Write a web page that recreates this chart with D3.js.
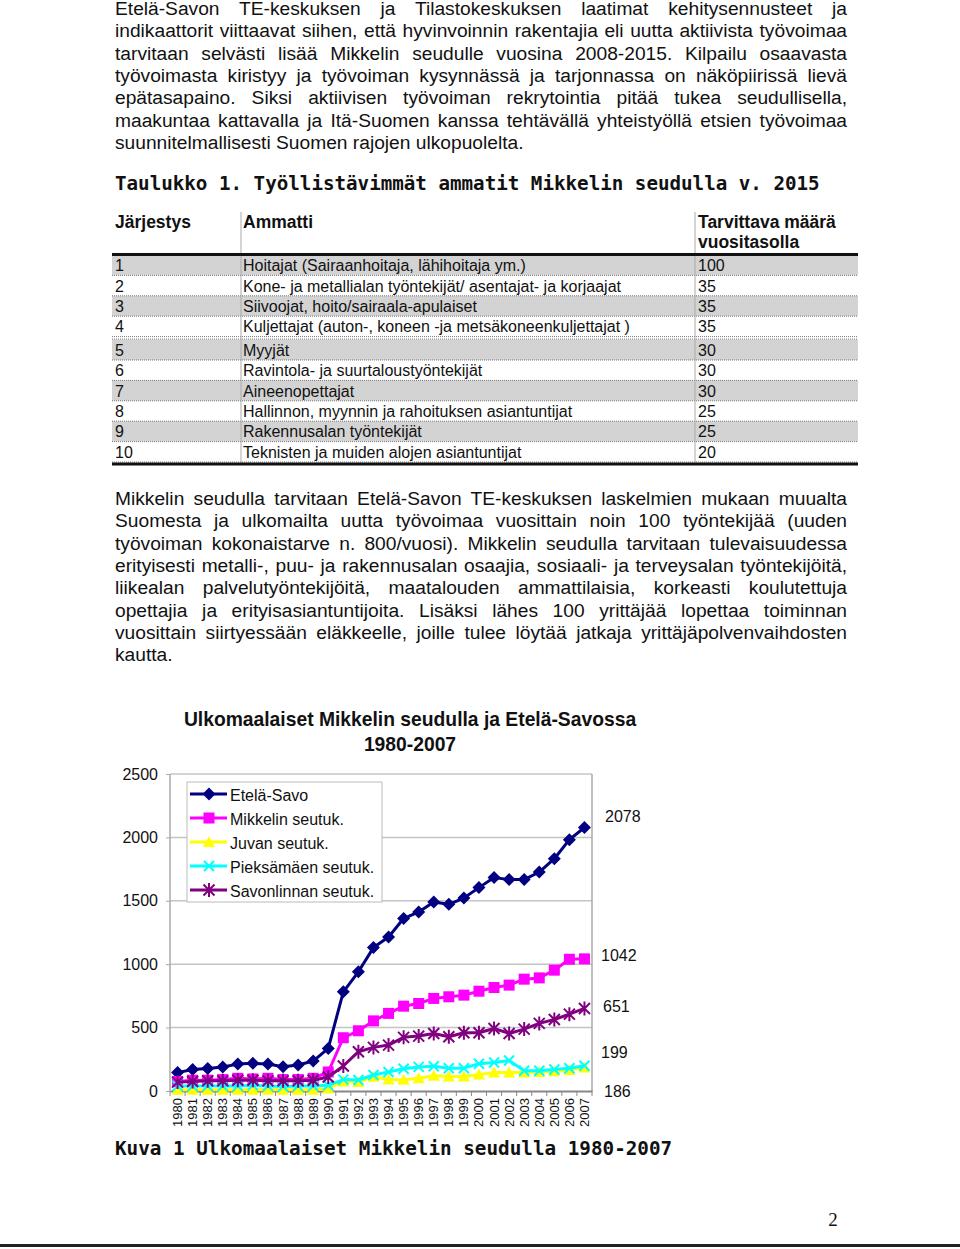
<!DOCTYPE html>
<html><head><meta charset="utf-8">
<script src="https://cdn.jsdelivr.net/npm/d3@7"></script>
<style>
body{margin:0;background:#fff;width:960px;height:1249px;position:relative;overflow:hidden;font-family:"Liberation Sans",Arial,sans-serif;color:#111;}
.para{position:absolute;left:115px;width:732px;font-size:19.2px;}
.para div{height:22.35px;line-height:22.35px;text-align:justify;text-align-last:justify;}
.para div.last{text-align-last:left;}
svg{position:absolute;left:0;top:0;}
</style></head><body>
<div class="para" id="p1" style="top:-2px"></div>
<div class="para" id="p2" style="top:488px"></div>
<svg id="page" width="960" height="1249"></svg>
<script>
// ---------- text data ----------
const para1 = [
 "Etelä-Savon TE-keskuksen ja Tilastokeskuksen laatimat kehitysennusteet ja",
 "indikaattorit viittaavat siihen, että hyvinvoinnin rakentajia eli uutta aktiivista työvoimaa",
 "tarvitaan selvästi lisää Mikkelin seudulle vuosina 2008-2015. Kilpailu osaavasta",
 "työvoimasta kiristyy ja työvoiman kysynnässä ja tarjonnassa on näköpiirissä lievä",
 "epätasapaino. Siksi aktiivisen työvoiman rekrytointia pitää tukea seudullisella,",
 "maakuntaa kattavalla ja Itä-Suomen kanssa tehtävällä yhteistyöllä etsien työvoimaa",
 "suunnitelmallisesti Suomen rajojen ulkopuolelta."
];
const para2 = [
 "Mikkelin seudulla tarvitaan Etelä-Savon TE-keskuksen laskelmien mukaan muualta",
 "Suomesta ja ulkomailta uutta työvoimaa vuosittain noin 100 työntekijää (uuden",
 "työvoiman kokonaistarve n. 800/vuosi). Mikkelin seudulla tarvitaan tulevaisuudessa",
 "erityisesti metalli-, puu- ja rakennusalan osaajia, sosiaali- ja terveysalan työntekijöitä,",
 "liikealan palvelutyöntekijöitä, maatalouden ammattilaisia, korkeasti koulutettuja",
 "opettajia ja erityisasiantuntijoita. Lisäksi lähes 100 yrittäjää lopettaa toiminnan",
 "vuosittain siirtyessään eläkkeelle, joille tulee löytää jatkaja yrittäjäpolvenvaihdosten",
 "kautta."
];
const tableTitle = "Taulukko 1. Työllistävimmät ammatit Mikkelin seudulla v. 2015";
const tableHeaders = ["Järjestys", "Ammatti", "Tarvittava määrä", "vuositasolla"];
const ranks = ["1","2","3","4","5","6","7","8","9","10"];
const occupations = [
 "Hoitajat (Sairaanhoitaja, lähihoitaja ym.)",
 "Kone- ja metallialan työntekijät/ asentajat- ja korjaajat",
 "Siivoojat, hoito/sairaala-apulaiset",
 "Kuljettajat (auton-, koneen  -ja metsäkoneenkuljettajat )",
 "Myyjät",
 "Ravintola- ja suurtaloustyöntekijät",
 "Aineenopettajat",
 "Hallinnon, myynnin ja rahoituksen asiantuntijat",
 "Rakennusalan työntekijät",
 "Teknisten ja muiden alojen asiantuntijat"
];
const amounts = [100,35,35,35,30,30,30,25,25,20];

// ---------- chart data ----------
const chartTitle = ["Ulkomaalaiset Mikkelin seudulla ja Etelä-Savossa", "1980-2007"];
const years = ["1980","1981","1982","1983","1984","1985","1986","1987","1988","1989","1990","1991","1992","1993","1994","1995","1996","1997","1998","1999","2000","2001","2002","2003","2004","2005","2006","2007"];
const yTicks = [0,500,1000,1500,2000,2500];
const seriesNames = ["Etelä-Savo","Mikkelin seutuk.","Juvan seutuk.","Pieksämäen seutuk.","Savonlinnan seutuk."];
const etelaSavo  = [145,170,178,190,212,218,213,192,205,236,336,782,940,1131,1215,1360,1412,1491,1472,1522,1604,1683,1667,1667,1727,1832,1982,2078];
const mikkeli    = [75,85,85,90,100,95,100,90,90,100,150,420,475,553,612,669,690,730,743,756,787,816,835,882,892,953,1039,1042];
const juva       = [10,10,10,10,10,10,10,10,10,10,20,75,70,113,90,88,100,120,115,115,130,145,145,145,150,155,165,186];
const pieksamaki = [40,40,40,40,40,45,40,35,40,40,45,90,87,126,150,175,190,195,180,180,215,225,240,160,160,170,180,199];
const savonlinna = [70,75,80,80,85,85,80,80,80,85,110,197,310,344,362,423,433,454,428,459,459,493,454,488,533,564,606,651];
// end-of-series value labels, in series order
const endLabels = ["2078","1042","186","199","651"];
const figCaption = "Kuva 1 Ulkomaalaiset Mikkelin seudulla 1980-2007";
const pageNumber = "2";

// ---------- paragraphs ----------
function fillPara(id, lines){
  const sel = d3.select(id).selectAll("div").data(lines).join("div").text(d=>d);
  sel.classed("last",(d,i)=>i===lines.length-1);
}
fillPara("#p1", para1);
fillPara("#p2", para2);

const svg = d3.select("#page");
const mono = "'DejaVu Sans Mono', monospace";
const sans = "'Liberation Sans', Arial, sans-serif";

// ---------- table ----------
svg.append("text").attr("x",115).attr("y",183).attr("dominant-baseline","central")
  .attr("font-family",mono).attr("font-weight","bold").attr("font-size",19.2).attr("fill","#111").text(tableTitle);

const tbl = svg.append("g").attr("font-family",sans).attr("fill","#111");
const colX = [115,243,698];
const rowH = 20.4;
const rowTop = i => 255 + i*rowH + (i>=4 ? 3 : 0);
tbl.selectAll("rect.row").data(ranks).join("rect").attr("class","row")
  .attr("x",112).attr("width",746).attr("y",(d,i)=>rowTop(i)).attr("height",rowH)
  .attr("fill",(d,i)=> i%2===0 ? "#d3d3d3" : "#fff");
tbl.selectAll("line.dot").data(ranks).join("line").attr("class","dot")
  .attr("x1",112).attr("x2",858).attr("y1",(d,i)=>rowTop(i)+rowH).attr("y2",(d,i)=>rowTop(i)+rowH)
  .attr("stroke","#777").attr("stroke-width",1).attr("stroke-dasharray","1,1");
tbl.append("line").attr("x1",112).attr("x2",858).attr("y1",rowTop(4)-0.5).attr("y2",rowTop(4)-0.5)
  .attr("stroke","#777").attr("stroke-dasharray","1,1");
[241,695].forEach(x=>tbl.append("line").attr("x1",x).attr("x2",x).attr("y1",212).attr("y2",463).attr("stroke","#aaa"));
tbl.append("line").attr("x1",112).attr("x2",858).attr("y1",254.5).attr("y2",254.5).attr("stroke","#111").attr("stroke-width",3);
tbl.append("line").attr("x1",112).attr("x2",858).attr("y1",464).attr("y2",464).attr("stroke","#111").attr("stroke-width",3);
const hdr = [[colX[0],222,tableHeaders[0]],[colX[1],222,tableHeaders[1]],[colX[2],222,tableHeaders[2]],[colX[2],242,tableHeaders[3]]];
tbl.selectAll("text.h").data(hdr).join("text").attr("class","h")
  .attr("x",d=>d[0]).attr("y",d=>d[1]).attr("dominant-baseline","central")
  .attr("font-weight","bold").attr("font-size",17.5).text(d=>d[2]);
const cells = [];
ranks.forEach((r,i)=>{ cells.push([colX[0],i,r]); cells.push([colX[1],i,occupations[i]]); cells.push([colX[2],i,String(amounts[i])]); });
tbl.selectAll("text.c").data(cells).join("text").attr("class","c")
  .attr("x",d=>d[0]).attr("y",d=>rowTop(d[1])+rowH/2+0.5).attr("dominant-baseline","central")
  .attr("font-size",16).text(d=>d[2]);

// ---------- chart ----------
const x = d3.scaleBand().domain(years).range([170,592]).padding(0);
const y = d3.scaleLinear().domain([0,2500]).range([1091,774]);
const cx = d => x(d) + x.bandwidth()/2;
const ch = svg.append("g").attr("font-family",sans);

ch.selectAll("text.title").data(chartTitle).join("text").attr("class","title")
  .attr("x",410).attr("y",(d,i)=>719+i*25).attr("text-anchor","middle").attr("dominant-baseline","central")
  .attr("font-weight","bold").attr("font-size",19.3).attr("fill","#111").text(d=>d);

// gridlines
ch.selectAll("line.grid").data(yTicks.filter(t=>t>0)).join("line").attr("class","grid")
  .attr("x1",170).attr("x2",592).attr("y1",d=>y(d)).attr("y2",d=>y(d))
  .attr("stroke","#c4c4c4").attr("stroke-width",1.5);
ch.append("line").attr("x1",170).attr("x2",170).attr("y1",y(2500)).attr("y2",y(0)).attr("stroke","#aaa").attr("stroke-width",1.5);
ch.append("line").attr("x1",592).attr("x2",592).attr("y1",y(2500)).attr("y2",y(0)).attr("stroke","#aaa").attr("stroke-width",1.5);
// y axis
const yAx = d3.axisLeft(y).tickValues(yTicks).tickFormat(d3.format("d")).tickSize(4).tickPadding(8);
const yg = ch.append("g").attr("transform","translate(170,0)").call(yAx);
yg.select(".domain").remove();
yg.selectAll("line").attr("stroke","#aaa");
yg.selectAll("text").attr("font-family",sans).attr("font-size",16).attr("fill","#111");
// x axis
const xAx = d3.axisBottom(x).tickSize(0);
const xg = ch.append("g").attr("transform",`translate(0,${y(0)})`).call(xAx);
xg.select(".domain").attr("stroke","#888").attr("stroke-width",2);
xg.selectAll("text").attr("font-family",sans).attr("font-size",13).attr("fill","#111")
  .attr("transform","rotate(-90)").attr("text-anchor","end").attr("dominant-baseline","central")
  .attr("x",-7).attr("y",0).attr("dy",null);
ch.selectAll("line.xt").data(years.concat(["end"])).join("line").attr("class","xt")
  .attr("x1",(d,i)=>170+i*x.bandwidth()).attr("x2",(d,i)=>170+i*x.bandwidth())
  .attr("y1",y(0)).attr("y2",y(0)+5).attr("stroke","#888");

// markers
function marker(type, g, color){
  if(type==="diamond"){ g.append("path").attr("d","M0,-6.5L6.5,0L0,6.5L-6.5,0Z").attr("fill",color); }
  else if(type==="square"){ g.append("rect").attr("x",-5.5).attr("y",-5.5).attr("width",11).attr("height",11).attr("fill",color); }
  else if(type==="triangle"){ g.append("path").attr("d","M0,-6L6,5L-6,5Z").attr("fill",color); }
  else if(type==="x"){ g.append("path").attr("d","M-5,-5L5,5M-5,5L5,-5").attr("stroke",color).attr("stroke-width",2).attr("fill","none"); }
  else if(type==="star"){ g.append("path").attr("d","M-5.5,-5.5L5.5,5.5M-5.5,5.5L5.5,-5.5M0,-7L0,7").attr("stroke",color).attr("stroke-width",2).attr("fill","none"); }
}
const series = [
  {name:seriesNames[0], values:etelaSavo,  color:"#000080", m:"diamond"},
  {name:seriesNames[1], values:mikkeli,    color:"#ff00ff", m:"square"},
  {name:seriesNames[2], values:juva,       color:"#ffff00", m:"triangle"},
  {name:seriesNames[3], values:pieksamaki, color:"#00ffff", m:"x"},
  {name:seriesNames[4], values:savonlinna, color:"#800080", m:"star"}
];
const line = d3.line().x((d,i)=>cx(years[i])).y(d=>y(d));
series.forEach(s=>{
  const g = ch.append("g");
  g.append("path").attr("d",line(s.values)).attr("fill","none").attr("stroke",s.color).attr("stroke-width",3).attr("stroke-linejoin","round");
  s.values.forEach((v,i)=>{
    const mg = g.append("g").attr("transform",`translate(${cx(years[i])},${y(v)})`);
    marker(s.m, mg, s.color);
  });
});

// legend
const lg = ch.append("g");
lg.append("rect").attr("x",187).attr("y",782).attr("width",195).attr("height",120).attr("fill","#fff").attr("stroke","#bbb");
series.forEach((s,i)=>{
  const yy = 794 + i*24;
  lg.append("line").attr("x1",190).attr("x2",227).attr("y1",yy).attr("y2",yy).attr("stroke",s.color).attr("stroke-width",3);
  marker(s.m, lg.append("g").attr("transform",`translate(209,${yy})`), s.color);
  lg.append("text").attr("x",230).attr("y",yy+1).attr("dominant-baseline","central").attr("font-size",16).attr("fill","#111").text(s.name);
});

// end labels (placed beside the plot, offsets as in the original layout)
const endOffsets = [-11,-3,24,-13,-2];
const endX = [605,601,604,601,603];
series.forEach((s,i)=>{
  ch.append("text").attr("x",endX[i]).attr("y",y(s.values[s.values.length-1])+endOffsets[i])
    .attr("dominant-baseline","central").attr("font-size",16).attr("fill","#111").text(endLabels[i]);
});

// caption, page number, bottom rule
svg.append("text").attr("x",115).attr("y",1148).attr("dominant-baseline","central")
  .attr("font-family",mono).attr("font-weight","bold").attr("font-size",19.3).attr("fill","#111").text(figCaption);
svg.append("text").attr("x",833).attr("y",1219).attr("text-anchor","middle").attr("dominant-baseline","central")
  .attr("font-family","'Liberation Serif', serif").attr("font-size",19).attr("fill","#111").text(pageNumber);
svg.append("line").attr("x1",0).attr("x2",960).attr("y1",1245.5).attr("y2",1245.5).attr("stroke","#222").attr("stroke-width",3);
</script>
</body></html>
